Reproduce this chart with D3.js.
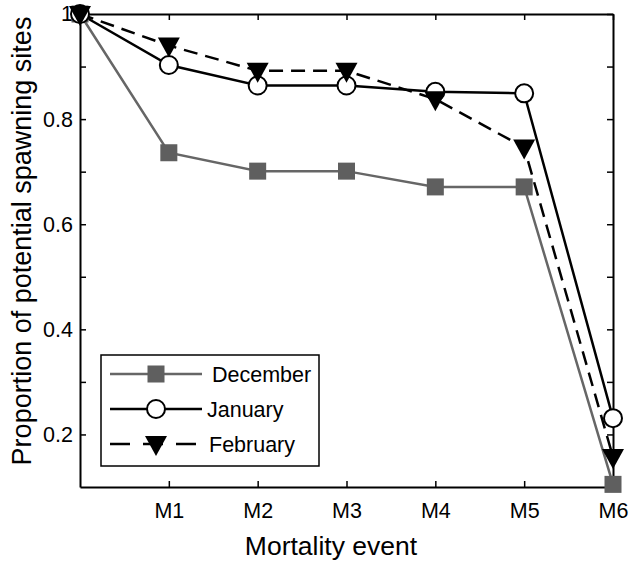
<!DOCTYPE html>
<html><head><meta charset="utf-8">
<script src="https://cdn.jsdelivr.net/npm/d3@7"></script>
<style>body{margin:0;background:#fff;} text{font-family:"Liberation Sans",Arial,sans-serif;}</style>
</head><body><svg id="c" width="634" height="564"></svg>
<script>
const xIdx = [0, 1, 2, 3, 4, 5, 6];
const xTickLabels = ["", "M1", "M2", "M3", "M4", "M5", "M6"];
const yTicks = [0.2, 0.4, 0.6, 0.8, 1];
const yMinor = [0.3, 0.5, 0.7, 0.9];
const december = [1, 0.736, 0.701, 0.701, 0.671, 0.671, 0.105];
const january  = [1, 0.903, 0.864, 0.864, 0.852, 0.849, 0.231];
const february = [1, 0.940, 0.892, 0.892, 0.838, 0.746, 0.157];
const seriesNames = ["December", "January", "February"];

const svg = d3.select("#c");
const L = 80, R = 613, T = 14, B = 487;
const x = d3.scaleLinear().domain([0, 6]).range([L, R]);
const y = d3.scaleLinear().domain([0.1, 1]).range([B, T]);

const allY = yTicks.concat(yMinor);
const FS = 21.5;
// axes
svg.append("g").attr("transform", `translate(0,${B})`)
  .call(d3.axisBottom(x).tickValues(xIdx.slice(1)).tickFormat(d => xTickLabels[d]).tickSizeInner(-6).tickSizeOuter(0).tickPadding(16))
  .call(g => { g.select(".domain").attr("stroke-width", 2); g.selectAll("line").attr("stroke-width", 1.5);
    g.selectAll("text").attr("font-size", FS).attr("fill", "#000"); });
svg.append("g").attr("transform", `translate(${L},0)`)
  .call(d3.axisLeft(y).tickValues(allY).tickFormat(d => yTicks.some(t => Math.abs(t - d) < 1e-9) ? d3.format("")(d) : "").tickSizeInner(-6).tickSizeOuter(0).tickPadding(7))
  .call(g => { g.select(".domain").attr("stroke-width", 2); g.selectAll("line").attr("stroke-width", 1.5);
    g.selectAll("text").attr("font-size", FS).attr("fill", "#000"); });
svg.append("g").attr("transform", `translate(0,${T})`)
  .call(d3.axisTop(x).tickValues(xIdx.slice(1)).tickFormat("").tickSizeInner(-6).tickSizeOuter(0))
  .call(g => { g.select(".domain").attr("stroke-width", 2); g.selectAll("line").attr("stroke-width", 1.5); });
svg.append("g").attr("transform", `translate(${R},0)`)
  .call(d3.axisRight(y).tickValues(allY).tickFormat("").tickSizeInner(-6).tickSizeOuter(0))
  .call(g => { g.select(".domain").attr("stroke-width", 2); g.selectAll("line").attr("stroke-width", 1.5); });

// labels
svg.append("text").attr("x", 331).attr("y", 555).attr("text-anchor", "middle")
  .attr("font-size", 26.5).text("Mortality event");
svg.append("text").attr("transform", `translate(22,${241}) rotate(-90)`).attr("text-anchor", "middle").attr("dy", "0.35em")
  .attr("font-size", 27).text("Proportion of potential spawning sites");

const line = d3.line().x((d, i) => x(xIdx[i])).y(d => y(d));
const styles = [
  {data: december, stroke: "#666666", dash: null, marker: "square"},
  {data: january, stroke: "#000", dash: null, marker: "circle"},
  {data: february, stroke: "#000", dash: "14,8", marker: "triangle"}
];
function drawMarker(g, type, cx, cy) {
  if (type === "square") g.append("rect").attr("x", cx - 8.5).attr("y", cy - 8.5).attr("width", 17).attr("height", 17).attr("fill", "#5f5f5f");
  else if (type === "circle") g.append("circle").attr("cx", cx).attr("cy", cy).attr("r", 9).attr("fill", "#fff").attr("stroke", "#000").attr("stroke-width", 2);
  else g.append("path").attr("d", `M${cx - 11},${cy - 8}L${cx + 11},${cy - 8}L${cx},${cy + 12}Z`).attr("fill", "#000");
}
styles.forEach(s => {
  svg.append("path").datum(s.data).attr("d", line).attr("fill", "none").attr("stroke", s.stroke)
    .attr("stroke-width", 2.5).attr("stroke-dasharray", s.dash);
});
styles.forEach(s => {
  const g = svg.append("g");
  s.data.forEach((v, i) => drawMarker(g, s.marker, x(xIdx[i]), y(v)));
});

// legend
const lg = svg.append("g");
lg.append("rect").attr("x", 101).attr("y", 355).attr("width", 218).attr("height", 111)
  .attr("fill", "#fff").attr("stroke", "#000").attr("stroke-width", 1.5);
const ly = [374, 409, 444];
const lx = [212, 207, 209];
styles.forEach((s, i) => {
  lg.append("line").attr("x1", 110).attr("x2", 202).attr("y1", ly[i]).attr("y2", ly[i])
    .attr("stroke", s.stroke).attr("stroke-width", 2.5).attr("stroke-dasharray", s.dash ? "20,13" : null);
  drawMarker(lg, s.marker, 156, ly[i]);
  lg.append("text").attr("x", lx[i]).attr("y", ly[i]).attr("dy", "0.35em").attr("font-size", FS).text(seriesNames[i]);
});
</script></body></html>
